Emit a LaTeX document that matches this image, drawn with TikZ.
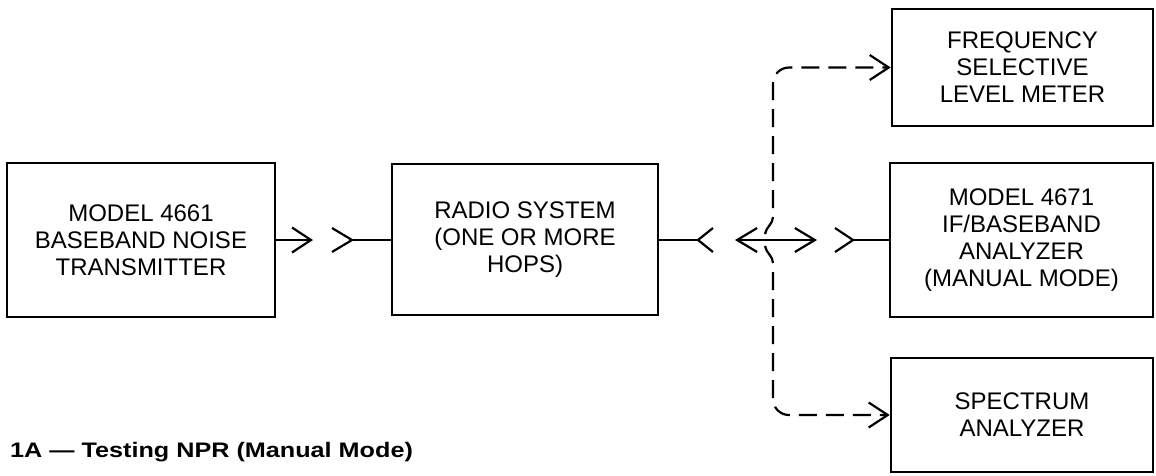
\documentclass[tikz,border=0pt]{standalone}
\usepackage{fontspec}
\setmainfont{Liberation Sans}
\newfontfamily\capfont[FakeStretch=1.2]{Liberation Sans}
\usetikzlibrary{arrows.meta}
\begin{document}
\begin{tikzpicture}[x=1pt,y=-1pt,
  blk/.style={draw, line width=2.6pt, inner sep=0pt, align=center,
    font=\fontsize{24}{27}\selectfont},
  wire/.style={line width=2.2pt},
  dashwire/.style={line width=2.2pt, dash pattern=on 18pt off 9pt, dash phase=18pt},
  barb/.style={-{Straight Barb[length=19pt,width=25pt]}},
  dbl/.style={{Straight Barb[length=20pt,width=24pt]}-{Straight Barb[length=20pt,width=24pt]}}
]
\fill[white] (0,0) rectangle (1156,475);
\useasboundingbox (0,0) rectangle (1156,475);

% boxes
\node[blk, minimum width=268, minimum height=154] (tx) at (141,240)
  {MODEL 4661\\BASEBAND NOISE\\TRANSMITTER};
\node[blk, minimum width=266, minimum height=151] (rs) at (525,239.5)
  {RADIO SYSTEM\\(ONE OR MORE\\HOPS)};
\node[blk, minimum width=261, minimum height=117] (fs) at (1022.5,67.5)
  {FREQUENCY\\SELECTIVE\\LEVEL METER};
\node[blk, minimum width=263, minimum height=154] (an) at (1021.5,240)
  {MODEL 4671\\IF/BASEBAND\\ANALYZER\\(MANUAL MODE)};
\node[blk, minimum width=262, minimum height=114] (sa) at (1022,415)
  {SPECTRUM\\ANALYZER};

% connector points
\coordinate (a1) at (313,240);
\coordinate (f1) at (352,240);
\coordinate (f2) at (698,240);
\coordinate (dl) at (735,240);
\coordinate (dr) at (817,240);
\coordinate (f3) at (853,240);
\coordinate (hu) at (765,234);
\coordinate (hd) at (765,246);
\coordinate (vt) at (773,217);
\coordinate (vb) at (773,263);

% transmitter -> radio system
\draw[wire, barb] (tx.east) -- (a1);
\draw[wire] (f1) ++(-20,-12) -- (f1) -- ++(-20,12);
\draw[wire] (f1) -- (f1 -| rs.west);

% radio system -> analyzers
\draw[wire] (rs.east |- f2) -- (f2);
\draw[wire] (f2) ++(15,-12) -- (f2) -- ++(15,12);
\draw[wire, dbl] (dl) -- (dr);
\draw[wire] (f3) ++(-18,-12) -- (f3) -- ++(-18,12);
\draw[wire] (f3) -- (an.west);

% dashed branch with crossover hop
\draw[wire] (hu) .. controls (766,227) and (773,224) .. (vt);
\draw[wire] (hd) .. controls (766,253) and (773,256) .. (vb);
\draw[dashwire, barb, rounded corners=16pt] (vt) -- (vt |- fs.west) -- (fs.west);
\draw[dashwire, barb, rounded corners=16pt] (vb) -- (vb |- sa.west) -- (sa.west);

% caption
\node[anchor=base west, inner sep=0pt,
  font=\capfont\bfseries\fontsize{21}{25}\selectfont] (cap) at (10,457)
  {1A — Testing NPR (Manual Mode)};
\end{tikzpicture}
\end{document}
